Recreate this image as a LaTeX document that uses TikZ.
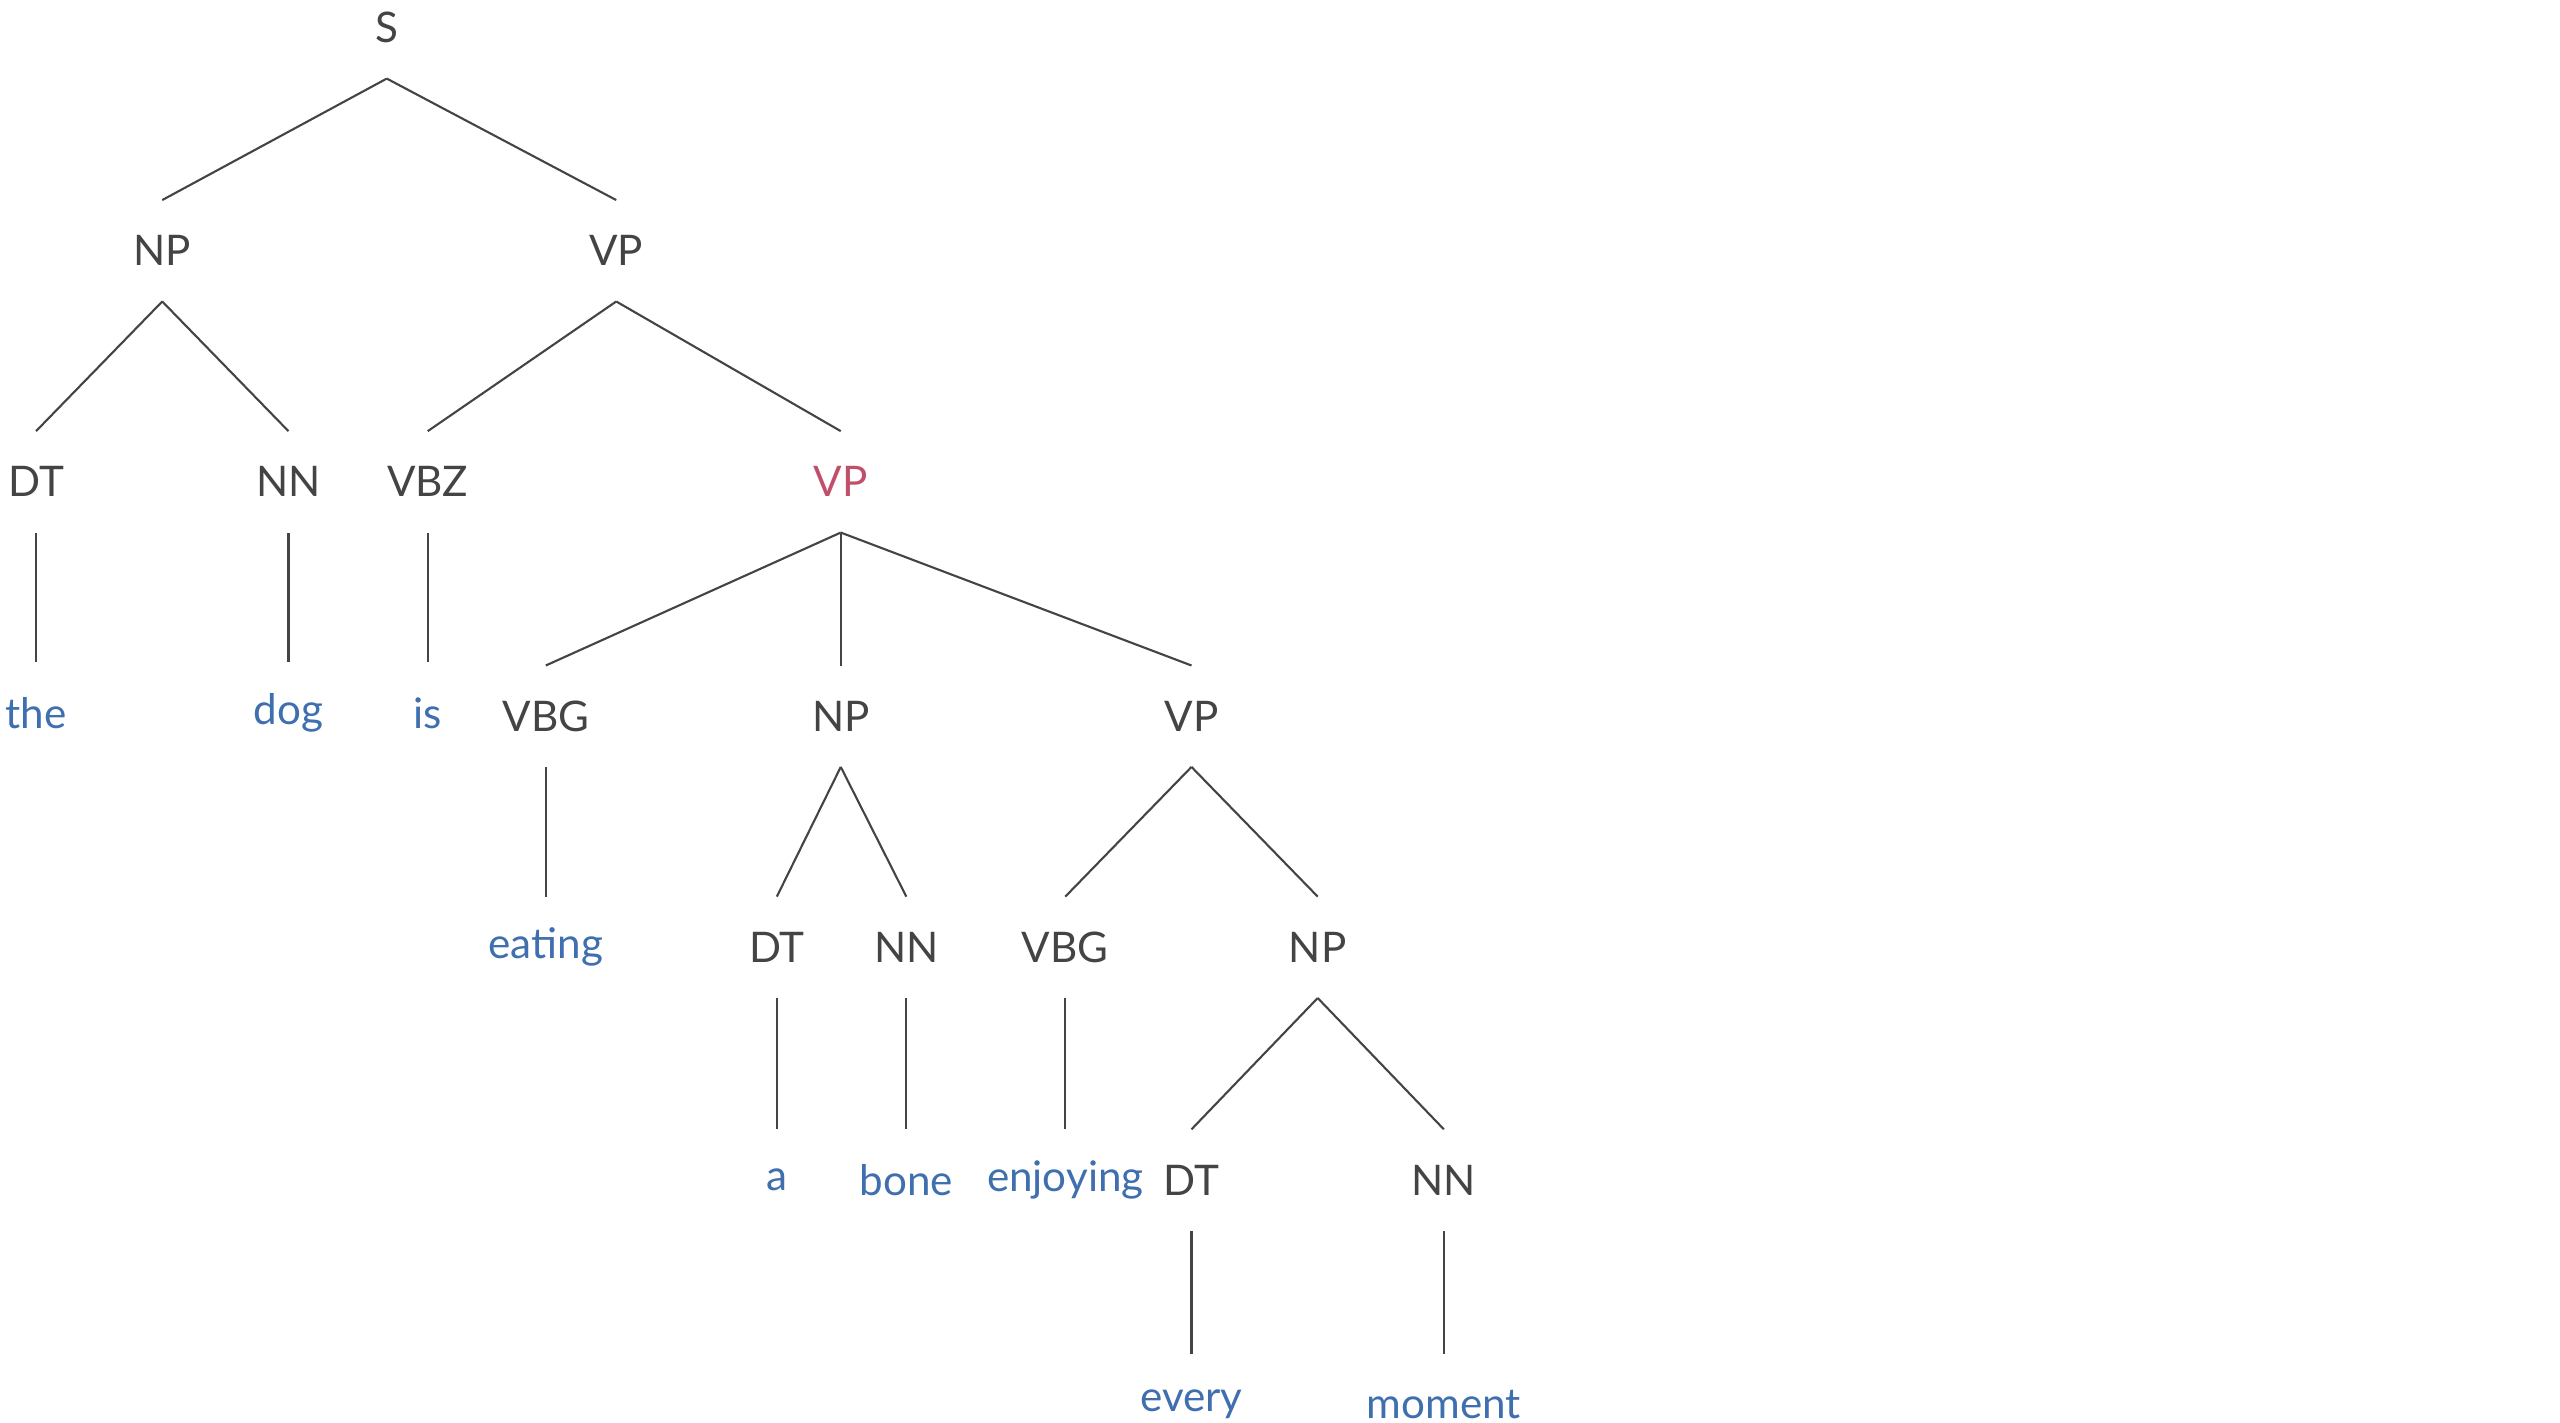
\documentclass[tikz,border=0pt]{standalone}
\usepackage{fontspec}
\setmainfont{Lato}
\definecolor{tagc}{HTML}{444444}
\definecolor{wordc}{HTML}{3F6FAE}
\definecolor{headc}{HTML}{C0506A}
\begin{document}
\begin{tikzpicture}[
    x=0.01639cm, y=-0.01639cm,
    every node/.style={font=\fontsize{12}{14}\selectfont, minimum height=1cm, inner sep=0pt},
    tag/.style={text=tagc},
    word/.style={text=wordc},
    head/.style={text=headc},
    branch/.style={draw=tagc, line width=0.6pt}
]
\useasboundingbox (0,0) rectangle (1562,868);

% --- tags
\node[tag] (s) at (236,17) {S};
\node[tag] (np1) at (99,153) {NP};
\node[tag] (vp1) at (376,153) {VP};
\node[tag] (dt1) at (22,294) {DT};
\node[tag] (nn1) at (176,294) {NN};
\node[tag] (vbz) at (261,294) {VBZ};
\node[head] (vp2) at (513,294) {VP};
\node[tag] (vbg1) at (333,437) {VBG};
\node[tag] (np2) at (513,437) {NP};
\node[tag] (vp3) at (727,437) {VP};
\node[tag] (dt2) at (474,578) {DT};
\node[tag] (nn2) at (553,578) {NN};
\node[tag] (vbg2) at (650,578) {VBG};
\node[tag] (np3) at (804,578) {NP};
\node[tag] (dt3) at (727,720) {DT};
\node[tag] (nn3) at (881,720) {NN};

% --- words
\node[word] (the) at (22,435) {the};
\node[word] (dog) at (176,435) {dog};
\node[word] (is) at (261,435) {is};
\node[word] (eating) at (333,578) {eating};
\node[word] (a) at (474,720) {a};
\node[word] (bone) at (553,720) {bone};
\node[word] (enjoying) at (650,720) {enjoying};
\node[word] (every) at (727,857) {every};
\node[word] (moment) at (881,857) {moment};

% --- branches
\foreach \p/\c in {s/np1, s/vp1, np1/dt1, np1/nn1, vp1/vbz, vp1/vp2,
    dt1/the, nn1/dog, vbz/is, vp2/vbg1, vp2/np2, vp2/vp3,
    vbg1/eating, np2/dt2, np2/nn2, vp3/vbg2, vp3/np3,
    dt2/a, nn2/bone, vbg2/enjoying, np3/dt3, np3/nn3,
    dt3/every, nn3/moment}
    \draw[branch] (\p.south) -- (\c.north);

\end{tikzpicture}
\end{document}
